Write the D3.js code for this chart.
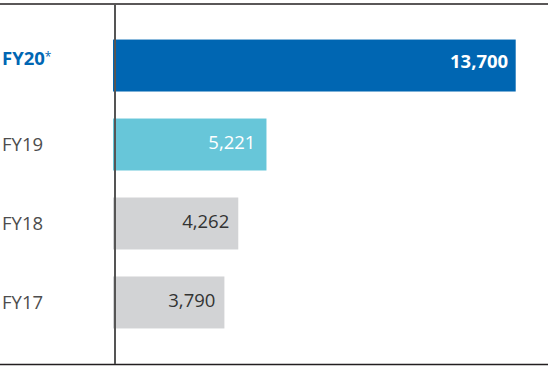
<!DOCTYPE html>
<html><head><meta charset="utf-8">
<script src="https://cdn.jsdelivr.net/npm/d3@7"></script>
<style>html,body{margin:0;padding:0;background:#fff;}svg{display:block;font-family:"Open Sans",sans-serif;}</style>
</head><body>
<svg id="c" width="548" height="369"></svg>
<script>
const categories = ["FY20", "FY19", "FY18", "FY17"];
const values = [13700, 5221, 4262, 3790];
const valueLabels = ["13,700", "5,221", "4,262", "3,790"];
const barColors = ["#0066b2", "#67c6d9", "#d2d3d5", "#d2d3d5"];
const valueColors = ["#ffffff", "#ffffff", "#333333", "#333333"];

const svg = d3.select("#c");
const x = d3.scaleLinear().domain([0, 13700]).range([113, 515.7]);
const y = d3.scaleBand().domain(categories).range([4, 364]).paddingInner(0.342).paddingOuter(0.45);

const data = categories.map((c, i) => ({c, v: values[i], lab: valueLabels[i], col: barColors[i], tcol: valueColors[i], i}));

svg.selectAll("rect.bar").data(data).join("rect").attr("class","bar")
  .attr("x", x(0)).attr("y", d => y(d.c))
  .attr("width", d => x(d.v) - x(0)).attr("height", y.bandwidth())
  .attr("fill", d => d.col);

// top and bottom rules
svg.append("line").attr("x1",0).attr("x2",548).attr("y1",4).attr("y2",4).attr("stroke","#231f20").attr("stroke-width",1.3);
svg.append("line").attr("x1",0).attr("x2",548).attr("y1",364.5).attr("y2",364.5).attr("stroke","#231f20").attr("stroke-width",1.3);
// vertical axis
svg.append("line").attr("x1",115).attr("x2",115).attr("y1",4).attr("y2",364).attr("stroke","#555555").attr("stroke-width",2);

// category labels
const cl = svg.selectAll("text.cat").data(data).join("text").attr("class","cat")
  .attr("x", 2)
  .attr("y", d => y(d.c) + y.bandwidth()/2 + (d.i === 0 ? -7 : 0))
  .attr("dy", "0.35em")
  .attr("font-size", 18.5)
  .attr("font-weight", d => d.i === 0 ? 700 : 400)
  .attr("fill", d => d.i === 0 ? "#0066b3" : "#4d4d4d");
cl.append("tspan").text(d => d.c);
cl.filter(d => d.i === 0).append("tspan").text("*").attr("font-size", 12).attr("font-weight", 400).attr("dy", "-0.3em");

// value labels
svg.selectAll("text.val").data(data).join("text").attr("class","val")
  .attr("x", d => x(d.v) - (d.i === 0 ? 7.5 : d.i === 1 ? 11 : 9))
  .attr("y", d => y(d.c) + y.bandwidth()/2 + (d.i === 0 ? -4 : -2))
  .attr("dy", "0.35em")
  .attr("text-anchor", "end")
  .attr("font-size", 18.5)
  .attr("font-weight", d => d.i === 0 ? 700 : 400)
  .attr("fill", d => d.tcol)
  .text(d => d.lab);
</script>
</body></html>
